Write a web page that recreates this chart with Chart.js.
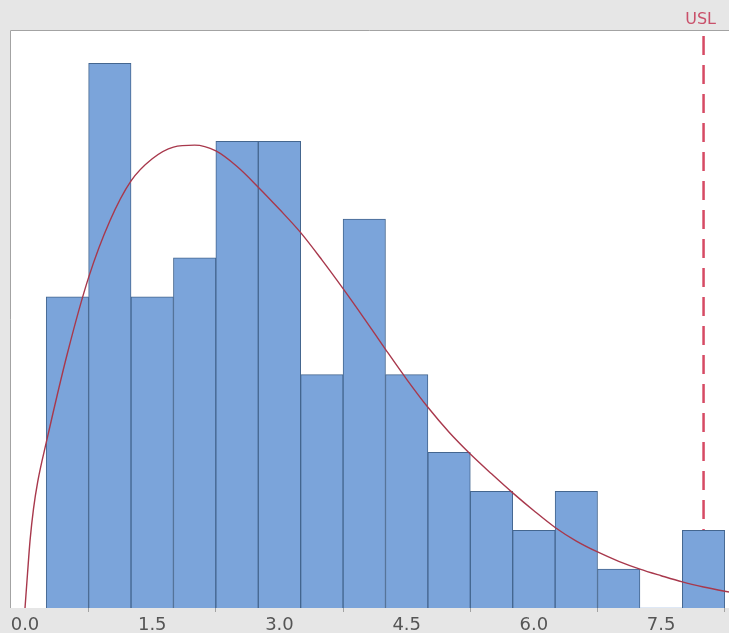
<!DOCTYPE html>
<html>
<head>
<meta charset="utf-8">
<script src="https://cdn.jsdelivr.net/npm/chart.js@4/dist/chart.umd.min.js"></script>
<style>
  html, body { margin: 0; padding: 0; background: #e6e6e6; }
  #wrap { width: 729px; height: 633px; position: relative; }
</style>
</head>
<body>
<div id="wrap"><canvas id="histChart"></canvas></div>
<script>
// Histogram bins (centre of each 0.5 wide bin) and counts
const binCenters = [0.5, 1.0, 1.5, 2.0, 2.5, 3.0, 3.5, 4.0, 4.5, 5.0, 5.5, 6.0, 6.5, 7.0, 7.5, 8.0];
const binCounts = [8, 14, 8, 9, 12, 12, 6, 10, 6, 4, 3, 2, 3, 1, 0, 2];

// Fitted distribution curve
const fitX = [0, 0.03, 0.06, 0.1, 0.15, 0.25, 0.5, 0.75, 1.0, 1.25, 1.5, 1.75, 2.0, 2.25, 2.5, 2.75, 3.0, 3.25, 3.5, 3.75, 4.0, 4.25, 4.5, 4.75, 5.0, 5.25, 5.5, 5.75, 6.0, 6.25, 6.5, 6.75, 7.0, 7.25, 7.5, 7.75, 8.0, 8.25, 8.3];
const fitY = [0, 0.9, 1.75, 2.55, 3.25, 4.25, 6.55, 8.5, 9.95, 10.98, 11.55, 11.85, 11.9, 11.75, 11.35, 10.82, 10.25, 9.65, 8.95, 8.21, 7.44, 6.65, 5.88, 5.16, 4.52, 3.96, 3.45, 2.96, 2.5, 2.07, 1.72, 1.44, 1.2, 1.0, 0.83, 0.67, 0.54, 0.43, 0.41];

// Axis
const xTicks = [0, 1.5, 3.0, 4.5, 6.0, 7.5];
const xMin = -0.177;
const xMax = 8.3;
const yMax = 14.86;

// Spec limit
const uslValue = 8.0;
const uslLabel = 'USL';

const plotBackground = {
  id: 'plotBackground',
  beforeDraw(chart) {
    const { ctx, chartArea } = chart;
    ctx.save();
    ctx.fillStyle = '#e6e6e6';
    ctx.fillRect(0, 0, chart.width, chart.height);
    ctx.fillStyle = '#ffffff';
    ctx.fillRect(chartArea.left, chartArea.top, chartArea.right - chartArea.left, chartArea.bottom - chartArea.top);
    ctx.restore();
  },
  afterDraw(chart) {
    const { ctx, chartArea } = chart;
    ctx.save();
    ctx.strokeStyle = '#a3a3a3';
    ctx.lineWidth = 1;
    ctx.beginPath();
    ctx.moveTo(chartArea.left + 0.5, chartArea.bottom);
    ctx.lineTo(chartArea.left + 0.5, chartArea.top + 0.5);
    ctx.lineTo(chartArea.right, chartArea.top + 0.5);
    ctx.stroke();

    // USL label above the plot
    const x = chart.scales.x.getPixelForValue(uslValue);
    ctx.fillStyle = '#c9506a';
    ctx.font = '16px "DejaVu Sans"';
    ctx.textAlign = 'center';
    ctx.textBaseline = 'middle';
    ctx.fillText(uslLabel, x - 3, 20);
    ctx.restore();
  }
};

function initChart() {
  const ctx = document.getElementById('histChart').getContext('2d');
  new Chart(ctx, {
    type: 'bar',
    data: {
      datasets: [
        {
          type: 'line',
          label: 'Fit',
          data: fitX.map((x, i) => ({ x, y: fitY[i] })),
          borderColor: '#a8384c',
          borderWidth: 1.4,
          pointRadius: 0,
          cubicInterpolationMode: 'monotone',
          fill: false,
          order: 0
        },
        {
          label: 'Count',
          data: binCenters.map((x, i) => ({ x, y: binCounts[i] })),
          backgroundColor: '#7ba4da',
          borderColor: '#44668f',
          borderWidth: (c) => (c.raw && c.raw.y > 0 ? 1 : 0),
          barPercentage: 1,
          categoryPercentage: 1,
          order: 1
        },
        {
          type: 'line',
          label: uslLabel,
          data: [{ x: uslValue, y: yMax }, { x: uslValue, y: 0 }],
          borderColor: '#d64a64',
          borderWidth: 2.5,
          borderDash: [19, 10],
          borderDashOffset: -6,
          pointRadius: 0,
          fill: false,
          order: 3
        }
      ]
    },
    options: {
      responsive: true,
      maintainAspectRatio: false,
      animation: false,
      layout: { padding: { left: 10, top: 30, right: 0, bottom: 0 } },
      plugins: { legend: { display: false }, tooltip: { enabled: false } },
      scales: {
        x: {
          type: 'linear',
          min: xMin,
          max: xMax,
          offset: false,
          grid: { display: true, drawOnChartArea: false, drawTicks: true, tickLength: 4, color: '#a3a3a3' },
          border: { display: false },
          afterBuildTicks: (scale) => { scale.ticks = xTicks.map((v) => ({ value: v })); },
          afterFit: (scale) => { scale.height = 25; },
          ticks: {
            autoSkip: false,
            maxRotation: 0,
            padding: 3,
            color: '#555555',
            font: { family: 'DejaVu Sans', size: 18 },
            callback: (v) => Number(v).toFixed(1)
          }
        },
        y: {
          display: false,
          min: 0,
          max: yMax
        }
      }
    },
    plugins: [plotBackground]
  });
}

document.addEventListener('DOMContentLoaded', initChart);
</script>
</body>
</html>
